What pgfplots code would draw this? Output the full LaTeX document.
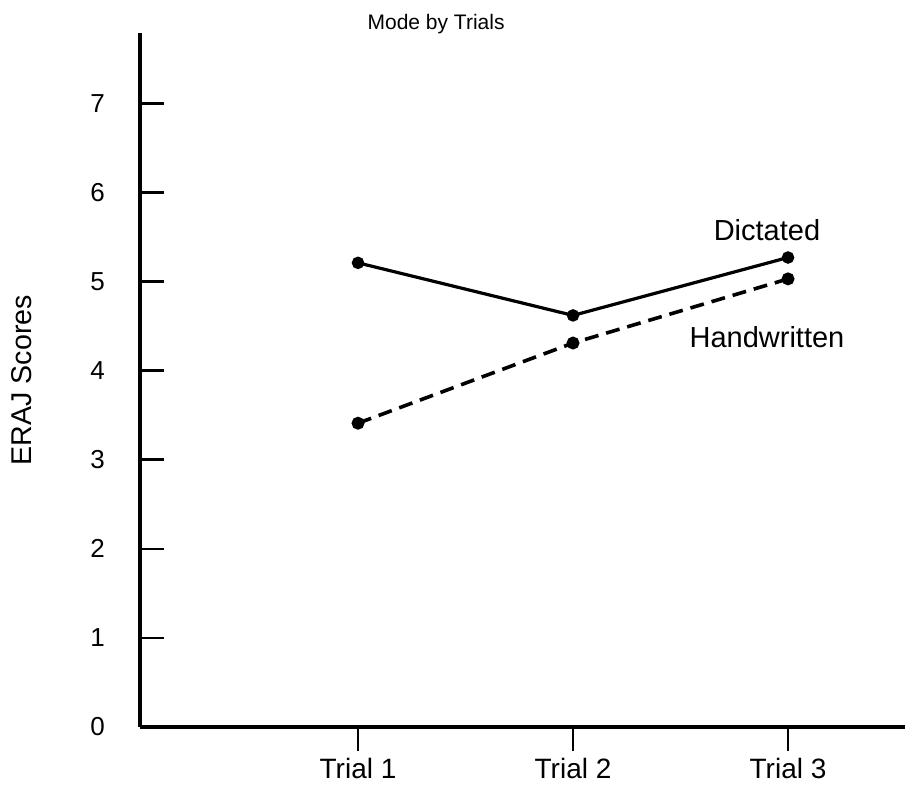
\documentclass[border=0pt]{standalone}
\usepackage{pgfplots}
\pgfplotsset{compat=1.18}
\usepackage{fontspec}
\setmainfont{Liberation Sans}
\begin{document}
\begin{tikzpicture}
\useasboundingbox (-70pt,-30pt) rectangle (382.5pt,363.5pt);
\begin{axis}[
  at={(0,0)}, anchor=south west,
  scale only axis, width=382.5pt, height=347pt,
  xmin=-0.014, xmax=3.544, ymin=0, ymax=7.79,
  axis x line=bottom, axis y line=left,
  axis line style={-, line width=1.7pt},
  xtick={1,2,3}, xticklabels={Trial 1, Trial 2, Trial 3},
  ytick={0,1,2,3,4,5,6,7},
  xtick align=outside, ytick align=inside,
  major tick length=12pt,
  tick style={line width=1.3pt, black},
  /pgf/number format/assume math mode=true,
  ticklabel style={font=\fontsize{13}{15}\selectfont},
  xticklabel style={font=\fontsize{14}{16}\selectfont},
  yticklabel style={xshift=-14pt},
  clip=false,
]
\addplot[black, line width=1.6pt, mark=*, mark size=2.3pt] coordinates {(1,5.21) (2,4.62) (3,5.27)};
\addplot[black, line width=1.8pt, dash pattern=on 7pt off 4pt, mark=*, mark size=2.3pt, mark options={solid}] coordinates {(1,3.41) (2,4.31) (3,5.03)};
\node[font=\fontsize{14.5}{17}\selectfont] at (axis cs:2.902,5.575) {Dictated};
\node[font=\fontsize{14.5}{17}\selectfont] at (axis cs:2.902,4.375) {Handwritten};
\node[font=\fontsize{10.5}{12}\selectfont] at (axis cs:1.363,7.89) {Mode by Trials};
\node[font=\fontsize{14.3}{17}\selectfont, rotate=90] at (axis cs:-0.563,3.893) {ERAJ Scores};
\end{axis}
\end{tikzpicture}
\end{document}
